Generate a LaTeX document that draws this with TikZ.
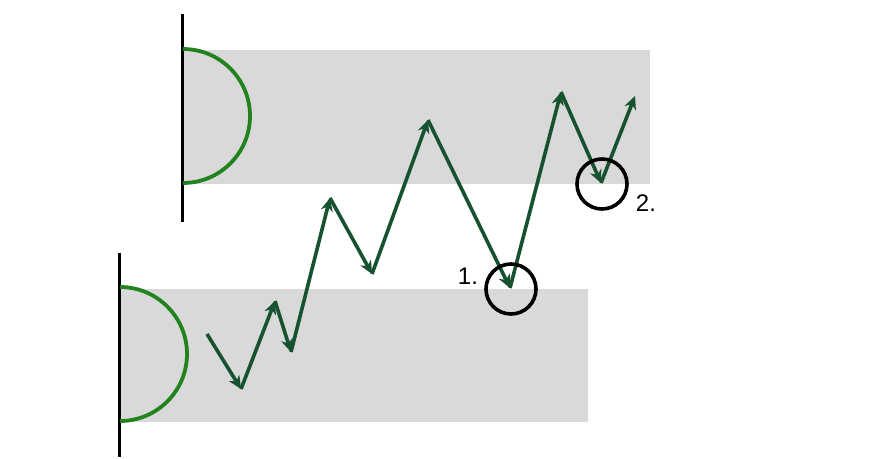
\documentclass[tikz,border=0pt]{standalone}
\usepackage{fontspec}
\setmainfont{Liberation Sans}
\usetikzlibrary{arrows.meta}
\definecolor{zonegray}{RGB}{217,217,217}
\definecolor{pathgreen}{RGB}{22,82,48}
\definecolor{arcgreen}{RGB}{34,130,30}
\tikzset{
  zone/.style={fill=zonegray, draw=none},
  wall/.style={draw=black, line width=3pt},
  halfdisc/.style={draw=arcgreen, line width=3.8pt},
  move/.style={draw=pathgreen, line width=3.6pt, -{Stealth[length=13pt,width=12pt,inset=4pt]}},
  marker/.style={draw=black, line width=3.6pt, circle, minimum size=50pt, inner sep=0pt},
  lbl/.style={font=\fontsize{24}{26}\selectfont, text=black, inner sep=0pt}
}
\begin{document}
\begin{tikzpicture}[x=1pt,y=-1pt]
\useasboundingbox (0,0) rectangle (870,458);
% zones
\fill[zone] (182,50) rectangle (650,184);
\fill[zone] (120,289) rectangle (588,422);
% walls
\draw[wall] (182,14) -- (182,222);
\draw[wall] (119,253) -- (119,457);
% half circles
\draw[halfdisc] (183,49) arc[start angle=-90, end angle=90, radius=67];
\draw[halfdisc] (120,287) arc[start angle=-90, end angle=90, radius=67];
% path points
\coordinate (p0) at (207,334);
\coordinate (p1) at (241,389);
\coordinate (p2) at (275,301);
\coordinate (p3) at (291,352);
\coordinate (p4) at (330,198);
\coordinate (p5) at (372,274);
\coordinate (p6) at (428,120);
\coordinate (p7) at (510,288);
\coordinate (p8) at (561,92);
\coordinate (p9) at (601,183);
\coordinate (p10) at (635,96);
\draw[move] (p0) -- (p1);
\draw[move] (p1) -- (p2);
\draw[move] (p2) -- (p3);
\draw[move] (p3) -- (p4);
\draw[move] (p4) -- (p5);
\draw[move] (p5) -- (p6);
\draw[move] (p6) -- (p7);
\draw[move] (p7) -- (p8);
\draw[move] (p8) -- (p9);
\draw[move] (p9) -- (p10);
% markers
\node[marker] (c1) at (511,289) {};
\node[marker] (c2) at (602,184) {};
\node[lbl] (l1) at (468,276) {1.};
\node[lbl] (l2) at (646,203) {2.};
\end{tikzpicture}
\end{document}
